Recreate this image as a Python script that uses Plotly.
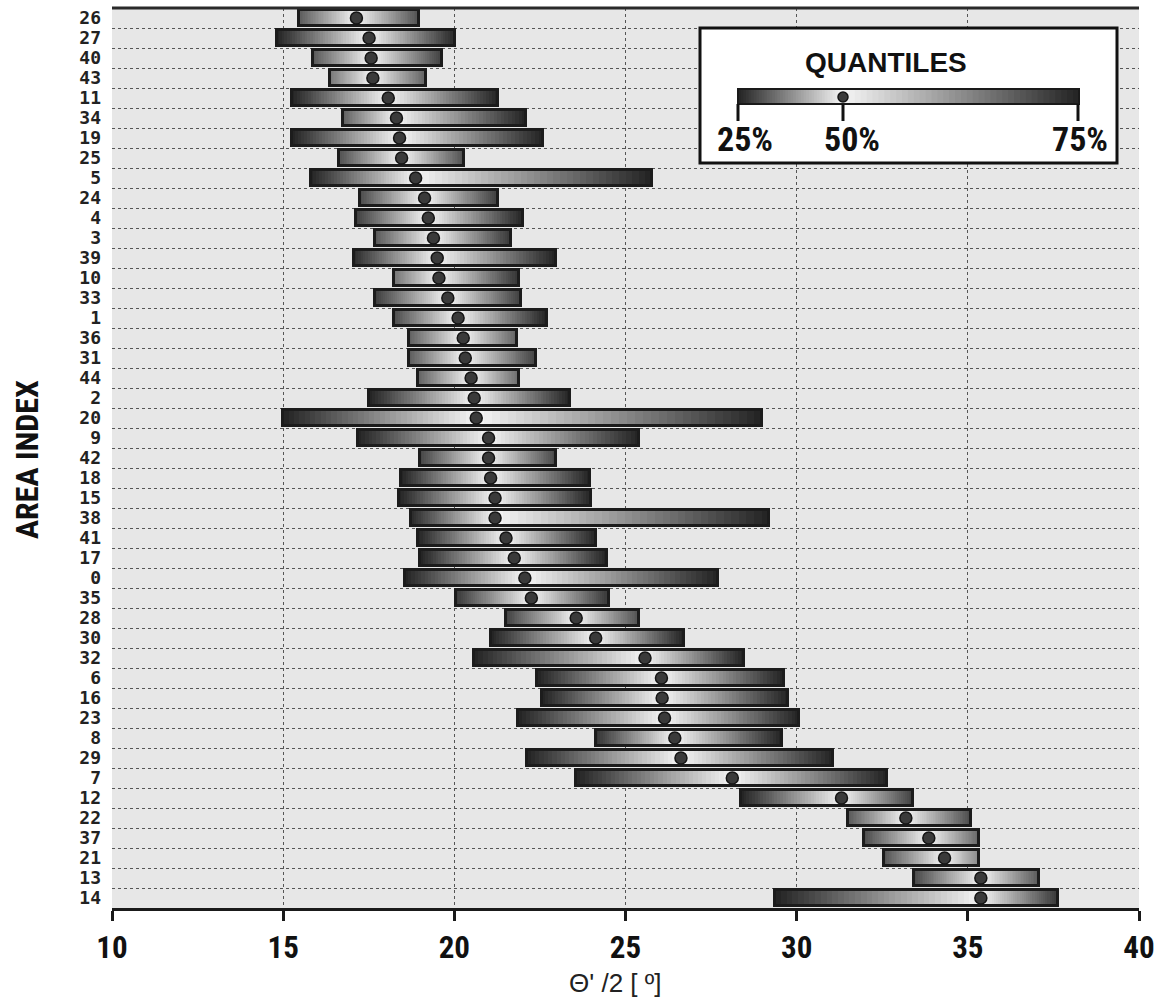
import plotly.graph_objects as go
import numpy as np

# ---------------- data ----------------
areas = ["26", "27", "40", "43", "11", "34", "19", "25", "5", "24", "4", "3", "39",
         "10", "33", "1", "36", "31", "44", "2", "20", "9", "42", "18", "15", "38",
         "41", "17", "0", "35", "28", "30", "32", "6", "16", "23", "8", "29", "7",
         "12", "22", "37", "21", "13", "14"]
q25 = [15.45, 14.81, 15.87, 16.37, 15.25, 16.75, 15.25, 16.62, 15.80, 17.25, 17.13, 17.68, 17.06,
       18.25, 17.68, 18.25, 18.68, 18.68, 18.93, 17.51, 15.00, 17.18, 19.00, 18.44, 18.37, 18.74,
       18.93, 19.00, 18.55, 20.06, 21.50, 21.06, 20.56, 22.42, 22.55, 21.85, 24.14, 22.11, 23.55,
       28.37, 31.49, 31.98, 32.55, 33.43, 29.37]
q50 = [17.14, 17.51, 17.57, 17.62, 18.07, 18.31, 18.40, 18.46, 18.87, 19.13, 19.24, 19.39, 19.50,
       19.55, 19.81, 20.11, 20.26, 20.32, 20.49, 20.58, 20.64, 21.00, 21.00, 21.06, 21.19, 21.19,
       21.51, 21.75, 22.06, 22.25, 23.56, 24.13, 25.57, 26.05, 26.07, 26.14, 26.44, 26.62, 28.12,
       31.31, 33.19, 33.86, 34.32, 35.38, 35.38]
q75 = [18.96, 20.02, 19.65, 19.16, 21.28, 22.09, 22.60, 20.27, 25.77, 21.28, 22.02, 21.66, 22.96,
       21.89, 21.95, 22.70, 21.83, 22.39, 21.90, 23.38, 29.00, 25.39, 22.96, 23.96, 24.00, 29.20,
       24.15, 24.45, 27.70, 24.51, 25.39, 26.70, 28.45, 29.62, 29.75, 30.07, 29.58, 31.07, 32.64,
       33.39, 35.08, 35.34, 35.34, 37.08, 37.64]
x_ticks = [10, 15, 20, 25, 30, 35, 40]
legend_labels = ["25%", "50%", "75%"]

# ---------------- geometry (pixels) ----------------
WIDTH, HEIGHT = 1160, 1000
L, R, T, B = 112, 1139, 8, 908
PW, PH = R - L, B - T


def px(x):
    return (x - L) / PW


def py(y):
    return (B - y) / PH


WHITE = 246.0


def gray(level):
    g = int(round(max(0, min(255, level))))
    return f"rgb({g},{g},{g})"


def end_level(d):
    # darker ends for longer halves
    k = min(1.0, (d / 2.6) ** 0.7)
    return WHITE - (WHITE - 34) * k


# ---------------- gradient segments ----------------
NSEG = 36
seg_y, seg_base, seg_w, seg_col = [], [], [], []
for a, lo, me, hi in zip(areas, q25, q50, q75):
    for (s, e) in ((lo, me), (me, hi)):
        d = abs(e - s)
        el = end_level(d)
        step = (e - s) / NSEG
        for i in range(NSEG):
            x0 = s + i * step
            w = min(step * 1.35, e - x0)
            cx = x0 + step / 2
            t = abs(cx - me) / d if d > 0 else 0
            lev = WHITE - (WHITE - el) * t
            seg_y.append(a)
            seg_base.append(x0)
            seg_w.append(w)
            seg_col.append(gray(lev))

fig = go.Figure()
fig.add_trace(go.Bar(
    orientation="h", y=seg_y, base=seg_base, x=seg_w, width=0.82,
    marker=dict(color=seg_col, line=dict(width=0)),
    hoverinfo="skip", showlegend=False))

fig.add_trace(go.Bar(
    orientation="h", y=areas, base=q25, x=[h - l for l, h in zip(q25, q75)], width=0.82,
    marker=dict(color="rgba(0,0,0,0)", line=dict(color="#1c1c1c", width=3)),
    hoverinfo="skip", showlegend=False))

fig.add_trace(go.Scatter(
    x=q50, y=areas, mode="markers",
    marker=dict(symbol="circle", size=12, color="#3a3a3a", line=dict(color="#151515", width=1.5)),
    hoverinfo="skip", showlegend=False))

# ---------------- shapes: top border and legend box ----------------
shapes = []
shapes.append(dict(type="line", xref="paper", yref="paper", x0=0, x1=1, y0=1, y1=1,
                   line=dict(color="#2a2a2a", width=3)))

shapes.append(dict(type="rect", xref="paper", yref="paper",
                   x0=px(700), x1=px(1117), y0=py(163), y1=py(28),
                   fillcolor="white", line=dict(color="#111111", width=3), layer="above"))
gx0, gmed, gx1 = 738, 843, 1079
gy0, gy1 = 89, 104
NL = 40
for (s, e) in ((gx0, gmed), (gmed, gx1)):
    step = (e - s) / NL
    for i in range(NL):
        a0 = s + i * step
        a1 = min(a0 + step * 1.4, e)
        cx = a0 + step / 2
        t = abs(cx - gmed) / abs(e - s)
        lev = WHITE - (WHITE - 35) * t
        shapes.append(dict(type="rect", xref="paper", yref="paper",
                           x0=px(a0), x1=px(a1), y0=py(gy1), y1=py(gy0),
                           fillcolor=gray(lev), line=dict(width=0), layer="above"))
shapes.append(dict(type="rect", xref="paper", yref="paper",
                   x0=px(gx0), x1=px(gx1), y0=py(gy1), y1=py(gy0),
                   fillcolor="rgba(0,0,0,0)", line=dict(color="#1a1a1a", width=2), layer="above"))
for tx in (738, 843, 1078):
    shapes.append(dict(type="line", xref="paper", yref="paper",
                       x0=px(tx), x1=px(tx), y0=py(104), y1=py(121),
                       line=dict(color="#111111", width=3), layer="above"))
shapes.append(dict(type="circle", xref="paper", yref="paper",
                   x0=px(838), x1=px(848), y0=py(102), y1=py(92),
                   fillcolor="#3a3a3a", line=dict(color="#151515", width=1.5), layer="above"))

NARROW = "Liberation Sans Narrow, Arial Narrow, Roboto Condensed, Liberation Sans, Arial"

annotations = [
    dict(text="QUANTILES", xref="paper", yref="paper", x=px(886), y=py(62),
         xanchor="center", yanchor="middle", showarrow=False,
         font=dict(family="Liberation Sans, Arial", size=28, color="#111", weight="bold")),
]
for lab, lx in zip(legend_labels, (745, 852, 1080)):
    annotations.append(dict(text=lab, xref="paper", yref="paper", x=px(lx), y=py(139),
                            xanchor="center", yanchor="middle", showarrow=False,
                            font=dict(family=NARROW, size=34, color="#111", weight="bold")))
annotations.append(dict(text="AREA INDEX", xref="paper", yref="paper", x=px(27), y=py(460),
                        xanchor="center", yanchor="middle", textangle=-90, showarrow=False,
                        font=dict(family=NARROW, size=32, color="#111", weight="bold")))
annotations.append(dict(text="Θ' /2 [ º]", xref="paper", yref="paper", x=px(615), y=py(983),
                        xanchor="center", yanchor="middle", showarrow=False,
                        font=dict(family="Liberation Sans, Arial", size=26, color="#222")))

fig.update_layout(
    width=WIDTH, height=HEIGHT,
    margin=dict(l=L, r=WIDTH - R, t=T, b=HEIGHT - B, pad=0, autoexpand=False),
    paper_bgcolor="white", plot_bgcolor="#e7e7e7",
    barmode="overlay", bargap=0,
    shapes=shapes, annotations=annotations,
    showlegend=False,
)
fig.update_xaxes(
    range=[10, 40], autorange=False, tickmode="array", tickvals=x_ticks,
    ticktext=[str(v) for v in x_ticks],
    showgrid=True, gridcolor="#555555", griddash="dot", gridwidth=1,
    showline=True, linecolor="#1a1a1a", linewidth=3,
    ticks="outside", ticklen=10, tickwidth=3, tickcolor="#1a1a1a",
    tickfont=dict(family=NARROW, size=31, color="#111", weight="bold"),
    zeroline=False, fixedrange=True, automargin=False,
)
fig.update_yaxes(
    type="category", categoryorder="array", categoryarray=areas,
    range=[len(areas) - 0.5, -0.5], autorange=False,
    tickmode="array", tickvals=areas, ticktext=areas,
    tickson="boundaries", showgrid=True, gridcolor="#555555", griddash="dot", gridwidth=1,
    showline=False, ticks="", ticklabelstandoff=10,
    tickfont=dict(family="DejaVu Sans Mono, Liberation Mono, monospace", size=18, color="#222",
                  weight="bold"),
    zeroline=False, fixedrange=True, automargin=False,
)

fig.write_html("out.html", config={"displayModeBar": False},
               post_script="document.body.style.margin='0';document.body.style.padding='0';")
